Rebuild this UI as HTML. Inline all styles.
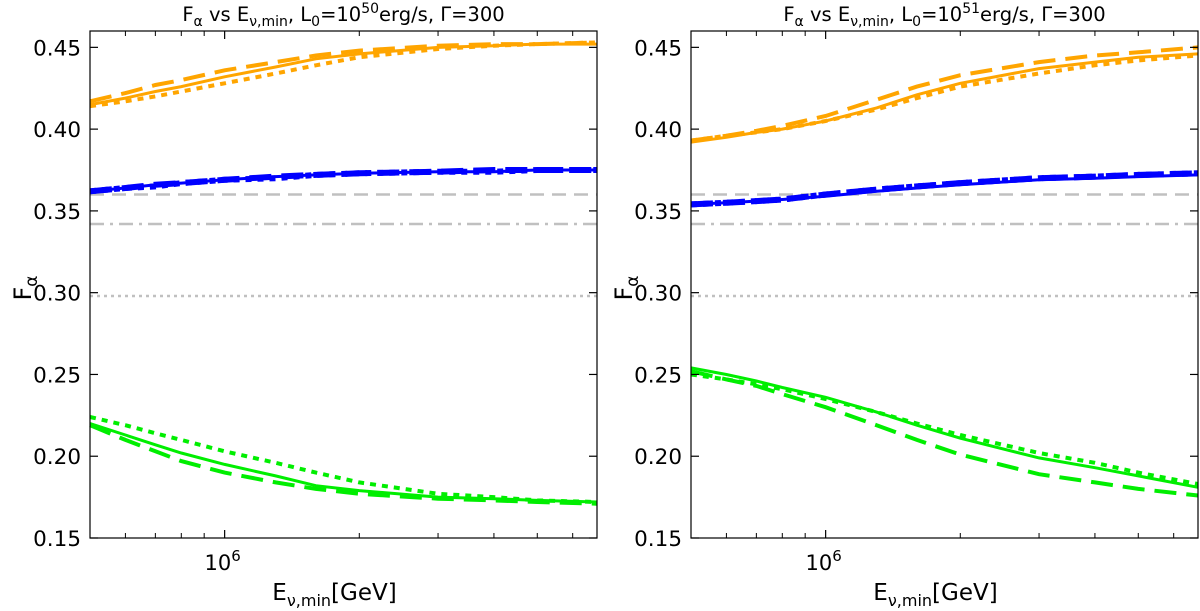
<!DOCTYPE html>
<html><head><meta charset="utf-8"><style>
html,body{margin:0;padding:0;background:#fff;}
svg{display:block;font-family:"DejaVu Sans","Liberation Sans",sans-serif;}
</style></head><body>
<svg id="chart" width="1200" height="611" viewBox="0 0 1200 611" xmlns="http://www.w3.org/2000/svg"></svg>
<script>
const xValues=[5e5,6e5,7e5,8e5,1e6,1.3e6,1.6e6,2e6,3e6,4e6,5e6,6.8e6];
const yTicks=[0.15,0.20,0.25,0.30,0.35,0.40,0.45];
const yTickLabels=["0.15","0.20","0.25","0.30","0.35","0.40","0.45"];
const refDashed=0.360, refDashDot=0.342, refDotted=0.298;
const leftOrangeSolid=[.415,.419,.423,.426,.432,.438,.443,.446,.450,.451,.452,.452];
const leftOrangeDashed=[.417,.422,.427,.430,.436,.441,.445,.448,.451,.452,.452,.453];
const leftOrangeDotted=[.414,.417,.420,.423,.428,.434,.439,.444,.449,.451,.452,.453];
const leftBlueSolid=[.362,.364,.366,.367,.369,.371,.372,.373,.374,.374,.375,.375];
const leftBlueDashed=[.362,.364,.366,.367,.369,.371,.372,.373,.374,.375,.375,.375];
const leftBlueDotted=[.362,.364,.365,.367,.369,.370,.372,.373,.374,.374,.375,.375];
const leftGreenSolid=[.220,.213,.207,.202,.195,.188,.182,.179,.175,.174,.173,.172];
const leftGreenDashed=[.219,.210,.203,.197,.190,.184,.180,.177,.174,.173,.172,.171];
const leftGreenDotted=[.224,.219,.214,.210,.203,.196,.190,.184,.177,.175,.173,.172];
const rightOrangeSolid=[.392,.395,.398,.400,.405,.413,.421,.428,.437,.441,.444,.446];
const rightOrangeDashed=[.393,.396,.399,.402,.408,.418,.426,.433,.441,.445,.447,.450];
const rightOrangeDotted=[.393,.396,.398,.400,.405,.412,.419,.426,.434,.439,.442,.445];
const rightBlueSolid=[.354,.355,.356,.357,.359,.362,.364,.366,.369,.370,.371,.372];
const rightBlueDashed=[.354,.355,.356,.357,.360,.363,.365,.367,.370,.371,.372,.373];
const rightBlueDotted=[.354,.355,.356,.357,.360,.363,.365,.367,.370,.371,.372,.373];
const rightGreenSolid=[.254,.250,.246,.242,.236,.227,.219,.211,.199,.193,.188,.181];
const rightGreenDashed=[.252,.247,.243,.238,.230,.219,.210,.201,.189,.184,.180,.176];
const rightGreenDotted=[.250,.247,.244,.241,.235,.227,.220,.213,.202,.196,.190,.183];

const NS="http://www.w3.org/2000/svg";
const svg=document.getElementById('chart');
function mk(tag,attrs,parent){const e=document.createElementNS(NS,tag);for(const k in attrs)e.setAttribute(k,attrs[k]);(parent||svg).appendChild(e);return e;}
const XMIN=5e5,XMAX=6.8e6,YMIN=0.15,YMAX=0.46,TOP=31,BOT=538,W=507;
function drawPanel(x0,sup,series,pname){
  const g=mk('g',{});
  
  
  const sx=v=>x0+(Math.log10(v)-Math.log10(XMIN))/(Math.log10(XMAX)-Math.log10(XMIN))*W;
  const sy=v=>BOT-(v-YMIN)/(YMAX-YMIN)*(BOT-TOP);
  const refs=[[refDashed,'14,8','reference-dashed-line'],[refDashDot,'14,6,3,6','reference-dashdot-line'],[refDotted,'3,4','reference-dotted-line']];
  refs.forEach(r=>{const l=mk('line',{x1:x0,x2:x0+W,y1:sy(r[0]),y2:sy(r[0]),stroke:'#c0c0c0','stroke-width':2.5,'stroke-dasharray':r[1]},g);
    
    });
  series.forEach(s=>{
    const d=xValues.map((x,i)=>(i?'L':'M')+sx(x).toFixed(1)+','+sy(s.data[i]).toFixed(1)).join(' ');
    const p=mk('path',{d:d,fill:'none',stroke:s.color,'stroke-width':s.w,'stroke-dasharray':s.dash||'none'},g);
    
    
  });
  const fr=mk('rect',{x:x0,y:TOP,width:W,height:BOT-TOP,fill:'none',stroke:'#000','stroke-width':1.2},g);
  
  
  yTicks.forEach((t,i)=>{const y=sy(t);
    mk('line',{x1:x0,x2:x0+8,y1:y,y2:y,stroke:'#000','stroke-width':1.2},g);
    mk('line',{x1:x0+W-8,x2:x0+W,y1:y,y2:y,stroke:'#000','stroke-width':1.2},g);
    const tx=mk('text',{x:x0-9,y:y+8,'text-anchor':'end','font-size':21.5},g);tx.textContent=yTickLabels[i];
    
    });
  [6e5,7e5,8e5,9e5,2e6,3e6,4e6,5e6,6e6].forEach(v=>{const x=sx(v);
    mk('line',{x1:x,x2:x,y1:BOT,y2:BOT-5,stroke:'#000','stroke-width':1},g);
    mk('line',{x1:x,x2:x,y1:TOP,y2:TOP+5,stroke:'#000','stroke-width':1},g);});
  const xm=sx(1e6);
  mk('line',{x1:xm,x2:xm,y1:BOT,y2:BOT-8,stroke:'#000','stroke-width':1.2},g);
  mk('line',{x1:xm,x2:xm,y1:TOP,y2:TOP+8,stroke:'#000','stroke-width':1.2},g);
  const xl=mk('text',{x:xm-2,y:570,'text-anchor':'middle','font-size':21},g);
  xl.innerHTML='10<tspan dy="-9" font-size="15">6</tspan>';
  
  
  const xt=mk('text',{x:x0+W/2-9,y:600,'text-anchor':'middle','font-size':23},g);
  xt.innerHTML='E<tspan dy="6" font-size="16">ν,min</tspan><tspan dy="-6">[GeV]</tspan>';
  
  
  const yt=mk('text',{x:0,y:0,'text-anchor':'middle','font-size':24,transform:`translate(${x0-59},288) rotate(-90)`},g);
  yt.innerHTML='F<tspan dy="6" font-size="17">α</tspan>';
  
  
  const tt=mk('text',{x:x0+W/2,y:21,'text-anchor':'middle','font-size':19.5},g);
  tt.innerHTML='F<tspan dy="5" font-size="14">α</tspan><tspan dy="-5"> vs E</tspan><tspan dy="5" font-size="14">ν,min</tspan><tspan dy="-5">, L</tspan><tspan dy="5" font-size="14">0</tspan><tspan dy="-5">=10</tspan><tspan dy="-8" font-size="14">'+sup+'</tspan><tspan dy="8">erg/s, Γ=300</tspan>';
  
  
}
const O='#ffa500',B='#0000ff',G='#00ee00';
drawPanel(90,"50",[
 {data:leftOrangeSolid,color:O,w:3,name:'orange-solid-line'},
 {data:leftOrangeDashed,color:O,w:4,dash:'22,10',name:'orange-dashed-line'},
 {data:leftOrangeDotted,color:O,w:4,dash:'6,6',name:'orange-dotted-line'},
 {data:leftBlueSolid,color:B,w:3,name:'blue-solid-line'},
 {data:leftBlueDashed,color:B,w:6,dash:'22,10',name:'blue-dashed-line'},
 {data:leftBlueDotted,color:B,w:6,dash:'6,6',name:'blue-dotted-line'},
 {data:leftGreenSolid,color:G,w:3,name:'green-solid-line'},
 {data:leftGreenDashed,color:G,w:4,dash:'22,10',name:'green-dashed-line'},
 {data:leftGreenDotted,color:G,w:4,dash:'6,6',name:'green-dotted-line'}],'left-panel');
drawPanel(691,"51",[
 {data:rightOrangeSolid,color:O,w:3,name:'orange-solid-line'},
 {data:rightOrangeDashed,color:O,w:4,dash:'22,10',name:'orange-dashed-line'},
 {data:rightOrangeDotted,color:O,w:4,dash:'6,6',name:'orange-dotted-line'},
 {data:rightBlueSolid,color:B,w:3,name:'blue-solid-line'},
 {data:rightBlueDashed,color:B,w:6,dash:'22,10',name:'blue-dashed-line'},
 {data:rightBlueDotted,color:B,w:6,dash:'6,6',name:'blue-dotted-line'},
 {data:rightGreenSolid,color:G,w:3,name:'green-solid-line'},
 {data:rightGreenDashed,color:G,w:4,dash:'22,10',name:'green-dashed-line'},
 {data:rightGreenDotted,color:G,w:4,dash:'6,6',name:'green-dotted-line'}],'right-panel');
</script>
</body></html>
